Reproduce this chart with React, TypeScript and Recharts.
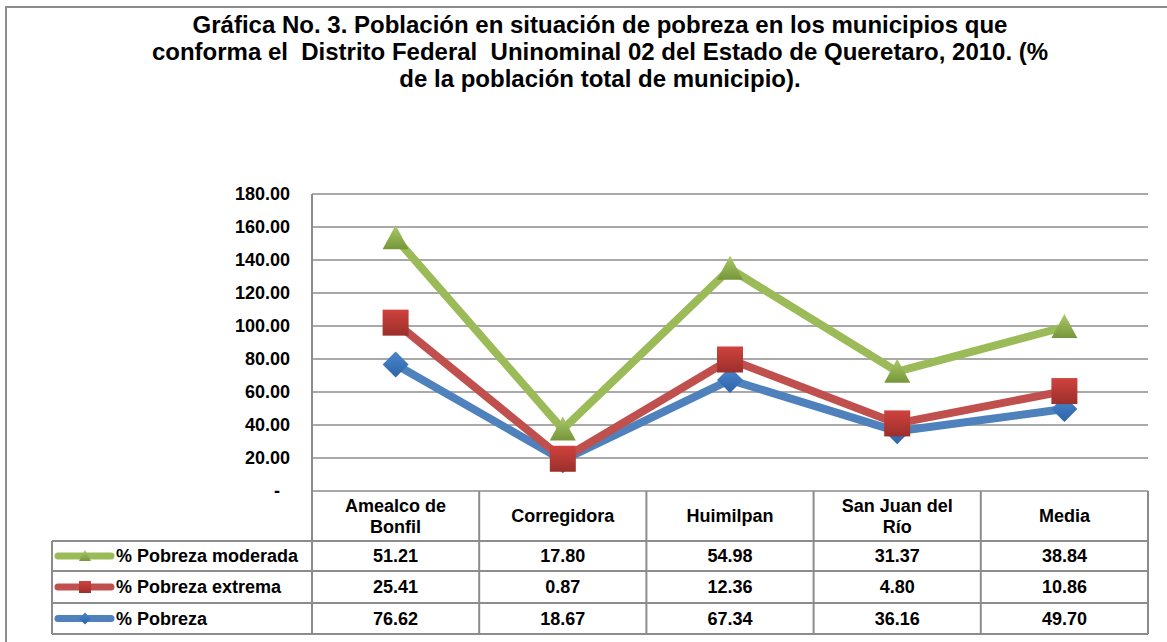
import React from "react"
import { Area, CartesianGrid, ComposedChart, XAxis, YAxis } from "recharts"

const categories = ["Amealco de Bonfil", "Corregidora", "Huimilpan", "San Juan del Río", "Media"]
const categoryLines = [["Amealco de", "Bonfil"], ["Corregidora"], ["Huimilpan"], ["San Juan del", "Río"], ["Media"]]
const pobreza = [76.62, 18.67, 67.34, 36.16, 49.7]
const pobrezaExtrema = [25.41, 0.87, 12.36, 4.8, 10.86]
const pobrezaModerada = [51.21, 17.8, 54.98, 31.37, 38.84]
const yTicks = [0, 20, 40, 60, 80, 100, 120, 140, 160, 180]

const data = categories.map((name, i) => ({
  name,
  pobreza: pobreza[i],
  extrema: pobrezaExtrema[i],
  moderada: pobrezaModerada[i],
}))

// table rows, top to bottom as in the original
const rows = [
  { label: "% Pobreza moderada", values: pobrezaModerada, color: "#9bbb59", shape: "triangle" },
  { label: "% Pobreza extrema", values: pobrezaExtrema, color: "#c0504d", shape: "square" },
  { label: "% Pobreza", values: pobreza, color: "#4f81bd", shape: "diamond" },
]

const W = 1167
const H = 642
const PLOT_LEFT = 312
const PLOT_RIGHT = 1148
const PLOT_TOP = 194
const PLOT_BOTTOM = 491
const BAND = (PLOT_RIGHT - PLOT_LEFT) / categories.length
const TABLE_LEFT = 52
const ROW_LINES = [541, 571, 603, 634]
const GRID = "#8c8c8c"
const FONT = "'Liberation Sans', Arial, sans-serif"

const textStyle = { fontFamily: FONT, fontWeight: 700, fontSize: 18, fill: "#000" }

function Marker({ cx, cy, shape, r, grad }: any) {
  if (shape === "triangle") {
    return <polygon points={`${cx},${cy - r} ${cx - r},${cy + r * 0.85} ${cx + r},${cy + r * 0.85}`} fill={grad} />
  }
  if (shape === "square") {
    return <rect x={cx - r} y={cy - r} width={r * 2} height={r * 2} fill={grad} />
  }
  return <polygon points={`${cx},${cy - r} ${cx + r},${cy} ${cx},${cy + r} ${cx - r},${cy}`} fill={grad} />
}

function dotFor(shape: string, grad: string) {
  return (props: any) => (
    <Marker key={`${shape}-${props.index}`} cx={props.cx} cy={props.cy} shape={shape} r={13} grad={grad} />
  )
}

function TableTick(props: any) {
  const { x, payload } = props
  const i = categories.indexOf(payload.value)
  const left = x - BAND / 2
  const lines = categoryLines[i]
  const rowCenters = ROW_LINES.slice(0, 3).map((y, k) => (y + ROW_LINES[k + 1]) / 2)
  return (
    <g>
      {i === 0 && (
        <g>
          {ROW_LINES.map((y) => (
            <line key={y} x1={TABLE_LEFT} x2={PLOT_RIGHT} y1={y} y2={y} stroke={GRID} strokeWidth={2} />
          ))}
          <line x1={TABLE_LEFT} x2={TABLE_LEFT} y1={ROW_LINES[0]} y2={ROW_LINES[3]} stroke={GRID} strokeWidth={2} />
          <line x1={left} x2={left} y1={PLOT_BOTTOM} y2={ROW_LINES[3]} stroke={GRID} strokeWidth={2} />
          {rows.map((r, k) => (
            <g key={r.label}>
              <line x1={58} x2={111} y1={rowCenters[k]} y2={rowCenters[k]} stroke={r.color} strokeWidth={7} strokeLinecap="round" />
              <Marker cx={85} cy={rowCenters[k]} shape={r.shape} r={6} grad={`url(#g-${r.shape})`} />
              <text x={116} y={rowCenters[k]} dominantBaseline="central" style={textStyle}>
                {r.label}
              </text>
            </g>
          ))}
        </g>
      )}
      <line x1={left + BAND} x2={left + BAND} y1={PLOT_BOTTOM} y2={ROW_LINES[3]} stroke={GRID} strokeWidth={2} />
      {lines.map((t, k) => (
        <text
          key={t}
          x={x}
          y={(PLOT_BOTTOM + ROW_LINES[0]) / 2 + (k - (lines.length - 1) / 2) * 21}
          textAnchor="middle"
          dominantBaseline="central"
          style={textStyle}
        >
          {t}
        </text>
      ))}
      {rows.map((r, k) => (
        <text key={r.label} x={x} y={rowCenters[k]} textAnchor="middle" dominantBaseline="central" style={textStyle}>
          {r.values[i].toFixed(2)}
        </text>
      ))}
    </g>
  )
}

export default function App() {
  return (
    <div style={{ position: "absolute", left: 0, top: 0, width: W, height: H, overflow: "hidden", background: "#fff" }}>
      <div
        style={{
          position: "absolute",
          left: 5,
          top: 6,
          width: 1300,
          height: 800,
          border: `2px solid ${GRID}`,
        }}
      />
      <div
        style={{
          position: "absolute",
          left: 0,
          top: 11,
          width: 1200,
          textAlign: "center",
          fontFamily: FONT,
          fontWeight: 700,
          fontSize: 24,
          lineHeight: "27px",
          color: "#000",
          whiteSpace: "pre",
        }}
      >
        {"Gráfica No. 3. Población en situación de pobreza en los municipios que\nconforma el  Distrito Federal  Uninominal 02 del Estado de Queretaro, 2010. (%\nde la población total de municipio)."}
      </div>
      <div style={{ position: "absolute", left: 0, top: 0 }}>
        <ComposedChart width={W} height={H} data={data} margin={{ top: PLOT_TOP, right: W - PLOT_RIGHT, bottom: 0, left: 0 }}>
          <defs>
            <linearGradient id="g-triangle" x1="0" y1="0" x2="0" y2="1">
              <stop offset="0%" stopColor="#a9c96a" />
              <stop offset="100%" stopColor="#76963a" />
            </linearGradient>
            <linearGradient id="g-square" x1="0" y1="0" x2="0" y2="1">
              <stop offset="0%" stopColor="#d0423d" />
              <stop offset="100%" stopColor="#9b2f2b" />
            </linearGradient>
            <linearGradient id="g-diamond" x1="0" y1="0" x2="0" y2="1">
              <stop offset="0%" stopColor="#4a86cc" />
              <stop offset="100%" stopColor="#2f64a8" />
            </linearGradient>
          </defs>
          <CartesianGrid vertical={false} stroke={GRID} strokeWidth={1.5} />
          <XAxis
            dataKey="name"
            height={H - PLOT_BOTTOM}
            padding={{ left: BAND / 2, right: BAND / 2 }}
            axisLine={false}
            tickLine={false}
            interval={0}
            tick={<TableTick />}
          />
          <YAxis
            width={PLOT_LEFT}
            domain={[0, 180]}
            ticks={yTicks}
            tickLine={false}
            tickSize={0}
            tickMargin={22}
            axisLine={{ stroke: GRID, strokeWidth: 2 }}
            tick={textStyle}
            tickFormatter={(v: number) => (v === 0 ? "-\u00a0\u00a0" : v.toFixed(2))}
          />
          <Area
            type="linear"
            dataKey="pobreza"
            stackId="s"
            stroke="#4f81bd"
            strokeWidth={8}
            strokeLinejoin="round"
            fill="none"
            fillOpacity={0}
            dot={dotFor("diamond", "url(#g-diamond)")}
            activeDot={false}
            isAnimationActive={false}
          />
          <Area
            type="linear"
            dataKey="extrema"
            stackId="s"
            stroke="#c0504d"
            strokeWidth={8}
            strokeLinejoin="round"
            fill="none"
            fillOpacity={0}
            dot={dotFor("square", "url(#g-square)")}
            activeDot={false}
            isAnimationActive={false}
          />
          <Area
            type="linear"
            dataKey="moderada"
            stackId="s"
            stroke="#9bbb59"
            strokeWidth={8}
            strokeLinejoin="round"
            fill="none"
            fillOpacity={0}
            dot={dotFor("triangle", "url(#g-triangle)")}
            activeDot={false}
            isAnimationActive={false}
          />
        </ComposedChart>
      </div>
    </div>
  )
}
